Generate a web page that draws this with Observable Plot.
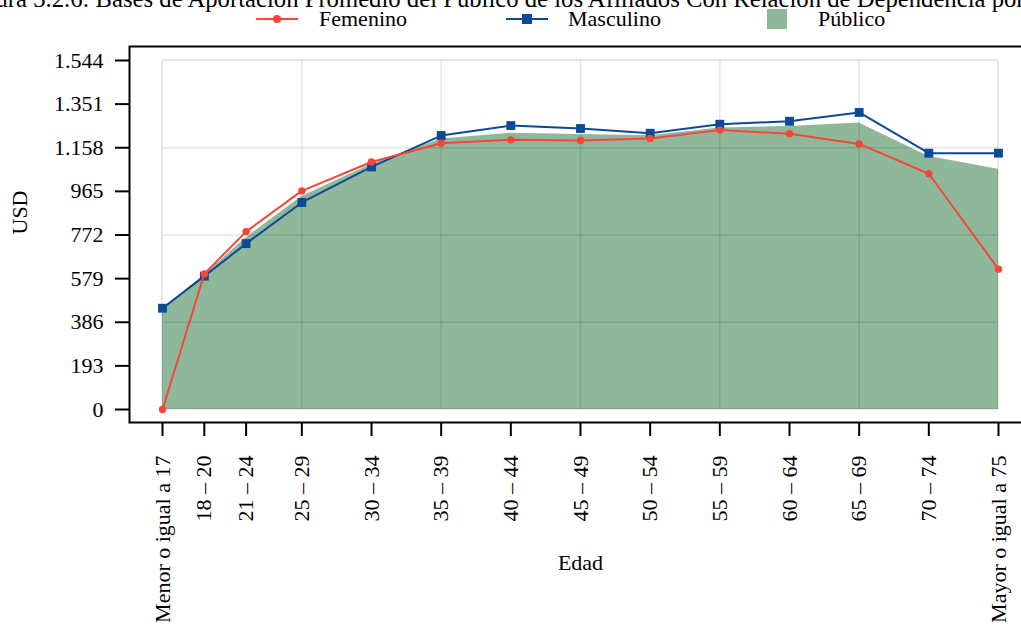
<!DOCTYPE html>
<html>
<head>
<meta charset="utf-8">
<script src="https://cdn.jsdelivr.net/npm/d3@7"></script>
<script src="https://cdn.jsdelivr.net/npm/@observablehq/plot@0.6"></script>
<style>
  html, body { margin: 0; padding: 0; background: #fff; }
  body { width: 1021px; height: 627px; overflow: hidden; position: relative; font-family: "Liberation Serif", "Times New Roman", serif; }
  #title { position: absolute; top: -14px; left: 522px; transform: translateX(-50%); white-space: nowrap; font-size: 24.7px; line-height: 26px; color: #000; }
  #legend { position: absolute; top: 0; left: 0; width: 1021px; height: 36px; font-size: 22px; color: #000; }
  .lg-line { position: absolute; height: 2px; top: 18px; }
  .lg-mark { position: absolute; }
  .lg-text { position: absolute; top: 7px; line-height: 24px; }
  #chart { position: absolute; top: 36px; left: 0; width: 1060px; }
  #chart svg { max-width: none !important; }
</style>
</head>
<body>
<div id="title">Figura 3.2.6: Bases de Aportación Promedio del Público de los Afiliados Con Relación de Dependencia por Edad</div>
<div id="legend">
  <div class="lg-line" style="left:256px;width:42px;background:#f8453a"></div>
  <div class="lg-mark" style="left:273px;top:15px;width:8px;height:8px;border-radius:50%;background:#f8453a"></div>
  <div class="lg-text" style="left:319px">Femenino</div>
  <div class="lg-line" style="left:506px;width:42px;background:#0b4a96"></div>
  <div class="lg-mark" style="left:522px;top:14px;width:10px;height:10px;background:#0b4a96"></div>
  <div class="lg-text" style="left:568px">Masculino</div>
  <div class="lg-mark" style="left:767px;top:9px;width:20px;height:20px;background:#8fb89b"></div>
  <div class="lg-text" style="left:818px">Público</div>
</div>
<div id="chart"></div>
<script>
// ---- data ----
const ageX = [15, 18, 21, 25, 30, 35, 40, 45, 50, 55, 60, 65, 70, 75];
const ageLabels = ["Menor o igual a 17", "18 – 20", "21 – 24", "25 – 29", "30 – 34", "35 – 39", "40 – 44",
  "45 – 49", "50 – 54", "55 – 59", "60 – 64", "65 – 69", "70 – 74", "Mayor o igual a 75"];
const femenino = [0, 600, 787, 967, 1095, 1178, 1193, 1190, 1199, 1236, 1220, 1175, 1043, 621];
const masculino = [448, 590, 734, 916, 1073, 1212, 1256, 1243, 1222, 1262, 1275, 1314, 1134, 1134];
const publico = [445, 595, 760, 942, 1085, 1197, 1222, 1217, 1211, 1245, 1252, 1268, 1119, 1063];
const yTicks = [0, 193, 386, 579, 772, 965, 1158, 1351, 1544];
const gridAges = [25, 35, 45, 55, 65];
const gridValues = [386, 772, 1158];

const colFem = "#f8453a", colMas = "#0b4a96", colPub = "#8fb89b";

const rows = ageX.map((x, i) => ({x, label: ageLabels[i], f: femenino[i], m: masculino[i], p: publico[i]}));
const xMin = d3.min(ageX), xMax = d3.max(ageX), yMax = d3.max(yTicks);
const fmt = d => d3.format(",")(d).replace(/,/g, ".");

const W = 1060, H = 591;
const chart = Plot.plot({
  width: W, height: H,
  marginLeft: 129, marginRight: 29, marginTop: 10, marginBottom: 205,
  style: {fontFamily: "'Liberation Serif', 'Times New Roman', serif", fontSize: "22px", background: "#fff", color: "#000", overflow: "visible", maxWidth: "none"},
  x: {type: "linear", domain: [12.63, 77.37]},
  y: {type: "linear", domain: [-57.5, 1605.9]},
  marks: [
    Plot.areaY(rows, {x: "x", y: "p", fill: colPub}),
    Plot.rect([null], {x1: xMin, x2: xMax, y1: 0, y2: yMax, fill: "none", stroke: "#000", strokeOpacity: 0.12, strokeWidth: 1.5}),
    Plot.ruleX(gridAges, {x: d => d, y1: 0, y2: yMax, stroke: "#000", strokeOpacity: 0.1, strokeWidth: 1.5}),
    Plot.ruleY(gridValues, {y: d => d, x1: xMin, x2: xMax, stroke: "#000", strokeOpacity: 0.1, strokeWidth: 1.5}),
    Plot.line(rows, {x: "x", y: "m", stroke: colMas, strokeWidth: 2}),
    Plot.dot(rows, {x: "x", y: "m", symbol: "square", r: 5, fill: colMas, stroke: "none"}),
    Plot.line(rows, {x: "x", y: "f", stroke: colFem, strokeWidth: 2}),
    Plot.dot(rows, {x: "x", y: "f", r: 3.7, fill: colFem, stroke: "none"}),
    Plot.frame({stroke: "#000", strokeWidth: 2}),
    Plot.axisY({ticks: yTicks, tickSize: 14, tickPadding: 12, tickFormat: fmt, label: null, strokeWidth: 2}),
    Plot.axisX({ticks: ageX, tickSize: 14, tickPadding: 19, tickRotate: -90, tickFormat: d => ageLabels[ageX.indexOf(d)], label: null, strokeWidth: 2}),
    Plot.text(["USD"], {text: d => d, frameAnchor: "left", dx: -110, rotate: -90, fontSize: 22}),
    Plot.text(["Edad"], {text: d => d, frameAnchor: "bottom", dy: 147, fontSize: 22})
  ]
});
document.getElementById("chart").appendChild(chart);
</script>
</body>
</html>
